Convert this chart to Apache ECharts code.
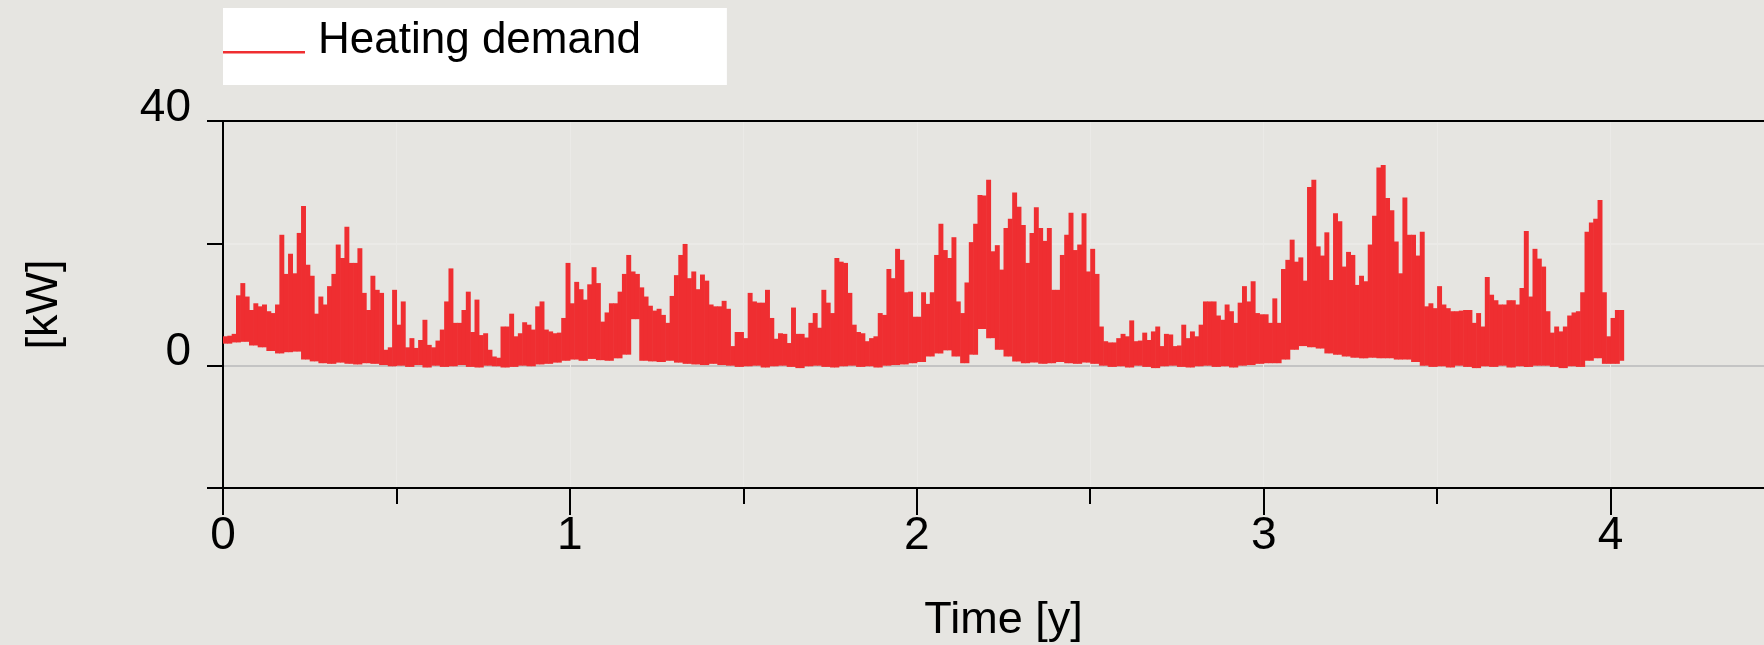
<!DOCTYPE html>
<html>
<head>
<meta charset="utf-8">
<script src="https://cdn.jsdelivr.net/npm/echarts@6/dist/echarts.min.js"></script>
<style>
html, body { margin: 0; padding: 0; background: #e6e5e1; }
#chart { width: 1764px; height: 645px; }
</style>
</head>
<body>
<div id="chart"></div>
<script>
// ---------------- data ----------------
const seriesName = 'Heating demand';
const xAxisTitle = 'Time [y]';
const yAxisTitle = '[kW]';
const STEP = 1 / 80;                 // years per sample of the envelope arrays
const yLabelValues = [0, 40];        // y tick labels that are printed
const xLabelValues = [0, 1, 2, 3, 4];

// upper envelope (peak demand, kW) per 1/80 year
const highY1 = [4.8, 4.9, 5.2, 11.5, 13.5, 11.3, 9.1, 10.2, 9.7, 10.0,
  8.9, 8.6, 10.0, 21.4, 15.0, 18.3, 15.1, 21.7, 26.1, 16.5,
  14.7, 8.5, 11.3, 10.0, 13.0, 15.0, 19.8, 17.6, 22.7, 16.8,
  16.8, 19.2, 11.9, 9.1, 14.7, 12.4, 11.9, 2.6, 3.0, 12.4,
  6.7, 10.5, 3.0, 4.5, 2.9, 4.2, 7.5, 3.4, 3.0, 4.1,
  5.9, 10.5, 15.9, 7.0, 7.0, 9.1, 12.1, 5.5, 10.8, 5.0,
  5.3, 2.6, 1.5, 1.3, 6.4, 6.4, 8.5, 4.8, 5.3, 7.1,
  6.7, 5.9, 9.7, 10.5, 5.9, 5.6, 5.3, 5.4, 7.8, 16.8];
const highY2 = [10.2, 13.7, 12.5, 10.8, 13.3, 16.1, 13.5, 7.2, 8.7, 10.2,
  10.2, 12.1, 15.0, 18.1, 15.4, 15.0, 12.8, 11.3, 9.8, 9.0,
  9.3, 8.3, 7.0, 11.4, 14.8, 18.1, 19.9, 14.3, 15.4, 12.5,
  14.9, 13.9, 10.0, 9.7, 9.7, 10.6, 9.3, 3.2, 5.5, 5.5,
  4.5, 11.9, 10.5, 10.3, 10.3, 12.4, 7.8, 4.4, 5.3, 5.2,
  3.7, 9.5, 5.2, 5.2, 4.6, 7.0, 8.6, 6.2, 12.4, 10.3,
  8.6, 17.6, 17.0, 16.8, 11.9, 6.7, 5.5, 5.3, 4.0, 4.5,
  4.8, 8.6, 8.3, 15.8, 14.3, 19.1, 17.3, 12.0, 12.1, 8.0];
const highY3 = [8.0, 12.0, 10.1, 12.0, 18.1, 23.2, 18.9, 17.6, 21.0, 10.5,
  8.6, 13.6, 20.2, 23.2, 27.9, 27.8, 30.4, 18.7, 19.7, 15.7,
  22.5, 24.0, 28.3, 26.0, 23.0, 16.8, 21.7, 25.9, 22.5, 20.4,
  22.5, 12.4, 12.4, 18.1, 21.4, 25.0, 18.9, 19.8, 24.9, 15.4,
  19.1, 15.0, 6.4, 4.0, 3.8, 3.8, 4.5, 5.2, 4.8, 7.4,
  4.0, 4.1, 5.4, 4.2, 5.6, 6.4, 3.2, 5.2, 5.1, 3.2,
  3.3, 6.7, 4.5, 5.6, 4.8, 6.7, 10.5, 10.5, 10.5, 8.2,
  7.5, 10.0, 8.9, 7.0, 10.3, 13.0, 10.5, 13.8, 8.6, 8.4];
const highY4 = [8.4, 7.0, 11.0, 7.0, 15.8, 17.3, 20.6, 17.0, 17.7, 13.9,
  29.2, 30.4, 19.5, 18.0, 21.8, 14.0, 24.9, 23.6, 16.2, 18.6,
  18.1, 13.2, 14.7, 13.8, 19.8, 24.5, 32.4, 32.8, 27.4, 25.4,
  20.3, 15.1, 27.5, 21.4, 21.4, 18.0, 21.9, 9.7, 10.2, 9.4,
  13.0, 10.0, 9.4, 8.9, 8.9, 9.0, 9.1, 9.1, 7.0, 8.6,
  6.4, 14.5, 11.6, 10.7, 10.0, 10.0, 10.7, 10.7, 10.0, 12.7,
  22.0, 11.3, 19.1, 17.5, 16.2, 8.9, 5.4, 6.4, 5.6, 6.4,
  8.2, 8.7, 8.9, 12.0, 21.9, 23.4, 24.0, 27.1, 12.0, 4.8,
  7.8, 9.1, 9.1];

// lower envelope (base load, kW) per 1/40 year
const lowY1 = [3.6, 3.8, 3.9, 3.3, 3.0, 2.4, 2.0, 2.2, 2.3, 1.0,
  0.7, 0.4, 0.3, 0.5, 0.3, 0.2, 0.4, 0.3, 0.1, -0.1,
  0.0, -0.2, 0.1, -0.3, 0.0, -0.2, -0.1, 0.1, -0.2, -0.3,
  0.0, -0.1, -0.3, -0.2, 0.0, -0.1, 0.2, 0.3, 0.5, 0.8];
const lowY2 = [1.0, 0.8, 1.1, 0.9, 0.8, 1.2, 1.8, 7.6, 0.8, 0.7,
  0.6, 0.8, 0.5, 0.3, 0.2, 0.1, 0.3, 0.1, 0.0, -0.2,
  -0.1, 0.0, -0.3, -0.1, 0.0, -0.2, -0.4, -0.1, 0.0, -0.2,
  -0.3, -0.1, 0.0, -0.2, -0.1, -0.3, 0.0, 0.1, 0.2, 0.4];
const lowY3 = [0.6, 1.5, 2.0, 2.5, 1.5, 0.4, 1.8, 6.0, 4.5, 2.6,
  1.5, 0.7, 0.4, 0.5, 0.3, 0.4, 0.6, 0.4, 0.3, 0.5,
  0.3, 0.0, -0.2, -0.1, -0.3, 0.0, -0.2, -0.4, -0.1, 0.0,
  -0.2, -0.3, -0.1, 0.0, -0.2, -0.1, -0.3, 0.0, 0.1, 0.3];
const lowY4 = [0.4, 0.4, 1.0, 2.6, 3.2, 3.0, 2.8, 2.0, 1.8, 1.5,
  1.3, 1.2, 1.3, 1.2, 1.2, 1.0, 1.0, 0.6, 0.0, -0.2,
  -0.1, -0.3, 0.0, -0.2, -0.4, -0.1, -0.2, 0.0, -0.3, -0.1,
  -0.2, 0.0, 0.0, -0.2, -0.4, -0.1, -0.2, 0.8, 1.2, 0.3,
  0.3, 0.8];

// ---------------- build series table ----------------
const high = [].concat(highY1, highY2, highY3, highY4);
const low = [].concat(lowY1, lowY2, lowY3, lowY4);
const table = high.map((h, i) => [i * STEP, low[Math.floor(i / 2)], h]);

const RED = '#ef2e31';
const BG = '#e6e5e1';
const FONT = '"Liberation Sans", Arial, Helvetica, sans-serif';

function renderItem(params, api) {
  const t = api.value(0);
  const lo = api.value(1);
  const hi = api.value(2);
  const pTop = api.coord([t, hi]);
  const pBot = api.coord([t + STEP, lo]);
  return {
    type: 'rect',
    shape: { x: pTop[0], y: pTop[1], width: pBot[0] - pTop[0] + 0.6, height: pBot[1] - pTop[1] },
    style: { fill: RED }
  };
}

const chart = echarts.init(document.getElementById('chart'), null, { renderer: 'canvas' });
chart.setOption({
  backgroundColor: BG,
  animation: false,
  color: [RED],
  textStyle: { fontFamily: FONT },
  grid: { left: 223, right: -20, top: 121, bottom: 157, containLabel: false, outerBoundsMode: 'none' },
  legend: {
    left: 223, top: 8,
    backgroundColor: '#ffffff',
    padding: [10.5, 86, 22.5, 0],
    itemWidth: 90, itemHeight: 26,
    icon: 'path://M89.99,0L90,0L90,0.01Z M0,23.5L82,23.5L82,26L0,26Z',
    textStyle: { fontSize: 44, color: '#000', fontFamily: FONT },
    data: [seriesName],
    selectedMode: false
  },
  xAxis: [{
    type: 'value', min: 0, max: 4.5, interval: 1,
    name: xAxisTitle, nameLocation: 'middle', nameGap: 110,
    nameTextStyle: { fontSize: 45, color: '#000', fontFamily: FONT },
    axisLine: { show: true, onZero: false, lineStyle: { color: '#000', width: 2 } },
    axisTick: { show: true, length: 27, lineStyle: { color: '#000', width: 2 } },
    minorTick: { show: true, splitNumber: 2, length: 16, lineStyle: { color: '#000', width: 2 } },
    axisLabel: {
      fontSize: 46, color: '#000', margin: 25, fontFamily: FONT,
      formatter: v => xLabelValues.includes(v) ? String(v) : ''
    },
    splitLine: { show: true, lineStyle: { color: '#ebeae7', width: 1 } },
    minorSplitLine: { show: true, lineStyle: { color: '#ebeae7', width: 1 } }
  }, {
    type: 'value', position: 'top', min: 0, max: 4.5,
    axisLine: { show: true, onZero: false, lineStyle: { color: '#000', width: 2 } },
    axisTick: { show: false }, axisLabel: { show: false }, splitLine: { show: false }
  }],
  yAxis: {
    type: 'value', min: -20, max: 40, interval: 20,
    name: yAxisTitle, nameLocation: 'middle', nameGap: 156,
    nameTextStyle: { fontSize: 45, color: '#000', fontFamily: FONT },
    axisLine: { show: true, onZero: false, lineStyle: { color: '#000', width: 2 } },
    axisTick: { show: true, length: 16, lineStyle: { color: '#000', width: 2 } },
    axisLabel: {
      fontSize: 46, color: '#000', margin: 32, verticalAlign: 'bottom', lineHeight: 26, fontFamily: FONT,
      formatter: v => yLabelValues.includes(v) ? String(v) : ''
    },
    splitLine: { show: true, lineStyle: { color: ['rgba(0,0,0,0)', '#c4c4c4', '#ebeae7', 'rgba(0,0,0,0)'], width: 2 } }
  },
  series: [{
    type: 'custom',
    name: seriesName,
    renderItem: renderItem,
    data: table,
    encode: { x: 0, y: [1, 2] },
    itemStyle: { color: RED },
    clip: true
  }]
});
</script>
</body>
</html>
